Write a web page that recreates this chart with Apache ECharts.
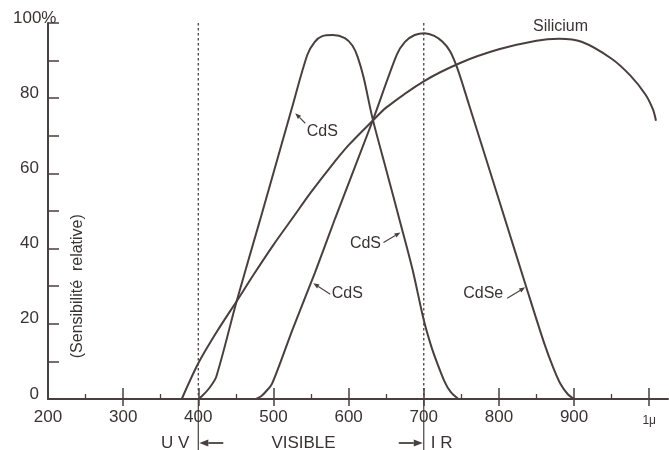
<!DOCTYPE html>
<html>
<head>
<meta charset="utf-8">
<script src="https://cdn.jsdelivr.net/npm/echarts@6/dist/echarts.min.js"></script>
<style>
  html, body { margin: 0; background: #fff; }
  #main { width: 669px; height: 450px; }
</style>
</head>
<body>
<div id="main"></div>
<script>
// courbes de sensibilité spectrale relative (longueur d'onde en nm, sensibilité en %)
var cdsNm  = [400, 405, 415, 424, 451, 482, 524, 545, 555, 565, 579, 595, 605, 612, 620, 632, 650, 668, 685, 700, 710, 718, 728, 736, 746];
var cdsVal = [0, 0.8, 3, 6, 26, 47.5, 77, 91.5, 95, 96.5, 96.8, 96, 94, 91, 85.5, 74.5, 61, 47.5, 34.5, 21, 14, 9.5, 4.5, 1.8, 0];

var cdseNm  = [477, 484, 490, 498, 526, 555, 582, 632, 664, 675, 688, 701, 714, 725, 735, 745, 760, 800, 837, 860, 872, 882, 892, 900];
var cdseVal = [0, 0.8, 2, 4, 18.8, 33.5, 48, 74, 91.5, 95, 96.8, 97.3, 96.6, 95, 92.5, 87.8, 78.4, 53, 29.4, 15, 8.5, 4, 1.2, 0];

var siNm  = [378, 400, 425, 451, 475, 500, 525, 550, 575, 600, 632, 650, 700, 750, 800, 850, 880, 910, 950, 975, 995, 1005, 1009];
var siVal = [0, 9.5, 18, 26, 33.5, 41, 48, 55, 61.5, 67.5, 74, 77.5, 84.5, 89.5, 93, 95.3, 95.8, 95, 90.5, 86, 81, 77, 74];

var xLabels = [200, 300, 400, 500, 600, 700, 800, 900, 1000];
var xMajor = [300, 400, 500, 600, 700, 800, 900, 1000];
var xMinor = [250, 350, 450, 550, 650, 750, 850, 950];
var bandEdges = [400, 700];

// étiquettes des courbes
var noteText = ['CdS', 'CdS', 'CdS', 'CdSe'];
var noteAt = [[529, 76], [669, 44.3], [553, 30.8], [835, 29.7]];
var noteLayout = [
  {text: [27, 18], tail: [10, 10]},
  {text: [-35, 11], tail: [-17, 10]},
  {text: [34, 10], tail: [17, 11]},
  {text: [-42, 6], tail: [-18, 11]}
];

var ink = '#4a3f3f';
var textInk = '#3a3333';
var font = '"Liberation Sans", Arial, sans-serif';

function pairs(xs, ys) {
  return xs.map(function (x, i) { return [x, ys[i]]; });
}

var myChart = echarts.init(document.getElementById('main'));

function curve(name, xs, ys) {
  return {
    name: name,
    type: 'line',
    data: pairs(xs, ys),
    showSymbol: false,
    smooth: 0.3,
    lineStyle: {color: ink, width: 2},
    silent: true
  };
}

var baseX = {
  type: 'value', min: 200, max: 1025, position: 'bottom',
  splitLine: {show: false}
};

var option = {
  animation: false,
  backgroundColor: '#fff',
  grid: {left: 48, right: 1, top: 23, bottom: 51, outerBoundsMode: 'none', containLabel: false},
  xAxis: [
    Object.assign({}, baseX, {
      axisLine: {lineStyle: {color: ink, width: 2}},
      axisTick: {inside: true, length: 11, customValues: xMajor, lineStyle: {color: ink, width: 1.5}},
      axisLabel: {
        customValues: xLabels, margin: 10, color: textInk, fontSize: 17, fontFamily: font,
        formatter: function (v) { return v === 1000 ? '{mu|1μ}' : String(v); },
        rich: {mu: {fontSize: 12, fontFamily: font, color: textInk, padding: [6, 0, 0, 0]}}
      }
    }),
    Object.assign({}, baseX, {
      axisLine: {show: false},
      axisTick: {inside: false, length: 7, customValues: xMajor, lineStyle: {color: ink, width: 1.5}},
      axisLabel: {show: false}
    }),
    Object.assign({}, baseX, {
      axisLine: {show: false},
      axisTick: {inside: true, length: 5, customValues: xMinor, lineStyle: {color: ink, width: 1.3}},
      axisLabel: {show: false}
    })
  ],
  yAxis: {
    type: 'value', min: 0, max: 100, interval: 10,
    splitLine: {show: false},
    axisLine: {show: true, lineStyle: {color: ink, width: 2}},
    axisTick: {show: true, inside: true, length: 11, lineStyle: {color: ink, width: 1.5}},
    axisLabel: {
      margin: 9, color: textInk, fontSize: 17, fontFamily: font,
      verticalAlign: 'middle', padding: [0, 0, 10, 0],
      formatter: function (v) {
        if (v % 20) return '';
        return v === 100 ? '{pc|100%}' : String(v);
      },
      rich: {pc: {fontSize: 17, fontFamily: font, color: textInk, width: 26, align: 'left'}}
    }
  },
  series: [
    curve('CdS', cdsNm, cdsVal),
    curve('CdSe', cdseNm, cdseVal),
    curve('Silicium', siNm, siVal)
  ]
};

myChart.setOption(option);

// annotations placées à partir des échelles du graphique
function px(x, y) {
  return myChart.convertToPixel({gridIndex: 0}, [x, y]);
}

function arrow(tail, tip, w, hl, hw) {
  var dx = tip[0] - tail[0], dy = tip[1] - tail[1];
  var len = Math.sqrt(dx * dx + dy * dy);
  var ux = dx / len, uy = dy / len;
  hl = hl || 6; hw = hw || 2.3;
  var bx = tip[0] - ux * hl, by = tip[1] - uy * hl;
  return [
    {type: 'line', silent: true, shape: {x1: tail[0], y1: tail[1], x2: bx, y2: by},
      style: {stroke: ink, lineWidth: w || 1.2}},
    {type: 'polygon', silent: true,
      shape: {points: [tip, [bx - uy * hw, by + ux * hw], [bx + uy * hw, by - ux * hw]]},
      style: {fill: ink}}
  ];
}

var elems = [];
var yTop = px(200, 100)[1], yBase = px(200, 0)[1];

bandEdges.forEach(function (nm) {
  var x = px(nm, 0)[0];
  elems.push({type: 'line', silent: true, shape: {x1: x, y1: yTop, x2: x, y2: yBase},
    style: {stroke: ink, lineWidth: 1.3, lineDash: [2.5, 2.5]}});
  elems.push({type: 'line', silent: true, shape: {x1: x, y1: yBase, x2: x, y2: 450},
    style: {stroke: ink, lineWidth: 1.2}});
});

var x400 = px(bandEdges[0], 0)[0], x700 = px(bandEdges[1], 0)[0];
var yBand = 443;
elems.push({type: 'text', silent: true, x: x400 - 9, y: yBand,
  style: {text: 'U V', fill: textInk, font: '17px ' + font, align: 'right', verticalAlign: 'middle'}});
elems.push({type: 'text', silent: true, x: px(540, 0)[0], y: yBand,
  style: {text: 'VISIBLE', fill: textInk, font: '17px ' + font, align: 'center', verticalAlign: 'middle'}});
elems.push({type: 'text', silent: true, x: x700 + 7, y: yBand,
  style: {text: 'I R', fill: textInk, font: '17px ' + font, align: 'left', verticalAlign: 'middle'}});
elems = elems.concat(arrow([x400 + 25, yBand], [x400 + 1, yBand], 1.8, 9, 3.5));
elems = elems.concat(arrow([x700 - 25, yBand], [x700 - 1, yBand], 1.8, 9, 3.5));

noteText.forEach(function (t, i) {
  var tip = px(noteAt[i][0], noteAt[i][1]);
  var lay = noteLayout[i];
  elems.push({type: 'text', silent: true, x: tip[0] + lay.text[0], y: tip[1] + lay.text[1],
    style: {text: t, fill: textInk, font: '16px ' + font, align: 'center', verticalAlign: 'middle'}});
  elems = elems.concat(arrow([tip[0] + lay.tail[0], tip[1] + lay.tail[1]], tip, 1.1));
});

var siLabel = px(882, 96);
elems.push({type: 'text', silent: true, x: siLabel[0], y: siLabel[1] - 11,
  style: {text: 'Silicium', fill: textInk, font: '16px ' + font, align: 'center', verticalAlign: 'middle'}});

var yName = px(200, 30);
elems.push({type: 'text', silent: true, x: yName[0] + 30, y: yName[1], rotation: Math.PI / 2,
  style: {text: '(Sensibilité  relative)', fill: textInk, font: '16px ' + font, align: 'center', verticalAlign: 'middle'}});

myChart.setOption({graphic: {elements: elems}});
</script>
</body>
</html>
